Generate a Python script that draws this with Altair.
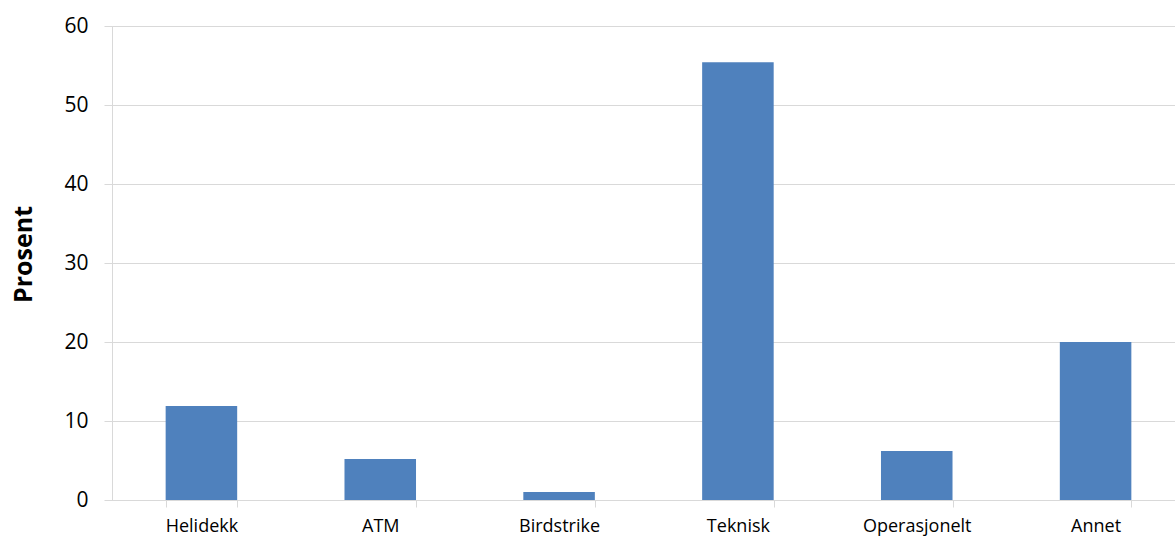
import altair as alt
import pandas as pd

categories = ["Helidekk", "ATM", "Birdstrike", "Teknisk", "Operasjonelt", "Annet"]
values = [11.9, 5.2, 1.0, 55.4, 6.2, 20.0]
y_ticks = [0, 10, 20, 30, 40, 50, 60]

df = pd.DataFrame({"kategori": categories, "prosent": values})

FONT = "Open Sans"
GRID = "#d9d9d9"

chart = alt.Chart(df).mark_bar(color="#4F81BD").encode(
    x=alt.X(
        "kategori:N",
        sort=categories,
        scale=alt.Scale(range=[0, 1073], paddingInner=0.6, paddingOuter=0.3),
        axis=alt.Axis(
            title=None,
            labelAngle=0,
            labelFont=FONT,
            labelFontSize=18,
            labelColor="#000000",
            labelPadding=10,
            domainColor=GRID,
            tickColor=GRID,
            tickSize=7,
            tickBand="extent",
            grid=False,
        ),
    ),
    y=alt.Y(
        "prosent:Q",
        scale=alt.Scale(domain=[0, 60], nice=False),
        axis=alt.Axis(
            title="Prosent",
            values=y_ticks,
            titleFont=FONT,
            titleFontSize=25,
            titleFontWeight="bold",
            titleColor="#000000",
            titlePadding=27,
            titleY=228,
            labelFont=FONT,
            labelFontSize=21,
            labelColor="#000000",
            labelPadding=16,
            domainColor=GRID,
            tickColor=GRID,
            tickSize=8,
            gridColor=GRID,
            gridWidth=1,
        ),
    ),
).properties(
    width=1063,
    height=474,
    autosize=alt.AutoSizeParams(type="none"),
    padding={"left": 112, "top": 26, "right": 0, "bottom": 36},
).configure_view(stroke=None).configure(background="#ffffff")

chart.save("out.html", embed_options={"renderer": "svg", "actions": False})
